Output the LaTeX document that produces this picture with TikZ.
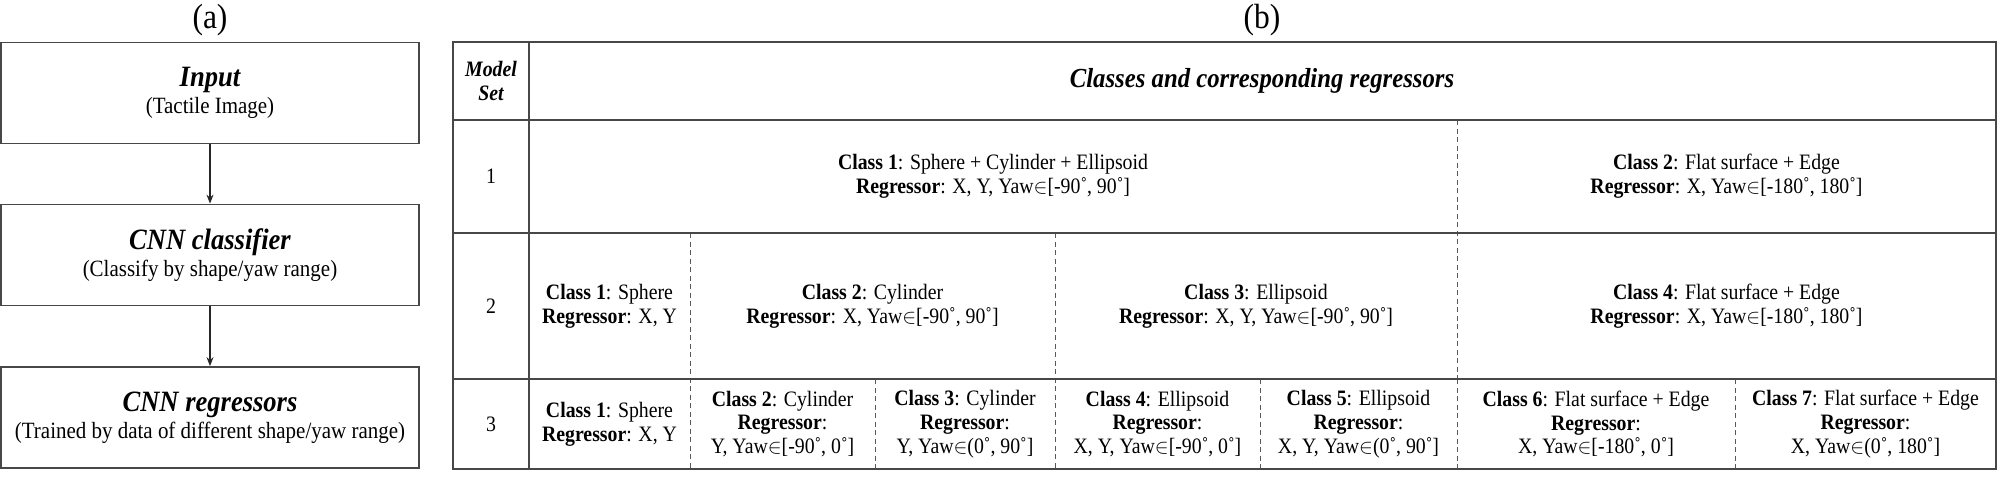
\documentclass[tikz,border=0pt]{standalone}
\usepackage{fontspec}
\setmainfont[FakeStretch=0.9]{Liberation Serif}
\usetikzlibrary{arrows.meta}
\newcommand{\ttlfont}{\fontsize{29.5}{29.5}\selectfont\bfseries\itshape}
\newcommand{\ye}{$\in$}
\begin{document}
\begin{tikzpicture}[x=1pt,y=-1pt,
  frame/.style={draw=black!72, line width=1.8pt},
  dline/.style={draw=black!65, line width=0.9pt, dash pattern=on 5pt off 3.5pt},
  flowbox/.style={draw=black!72, line width=1.8pt, minimum width=418pt, minimum height=101pt, align=center, inner sep=0pt, font=\fontsize{23.3}{27.5}\selectfont},
  cell/.style={align=center, inner sep=0pt, font=\fontsize{22}{23.8}\selectfont},
  hdr/.style={align=center, inner sep=0pt, font=\fontsize{27.5}{30}\selectfont\bfseries\itshape},
  arr/.style={draw=black!85, line width=1.2pt, -{Stealth[length=9pt,width=7pt]}},
  lbl/.style={inner sep=0pt, font=\fontsize{35}{38}\selectfont}]
\useasboundingbox (0,0) rectangle (2000,477);
% ---------- (a)
\node[lbl] (la) at (210,20) {(a)};
\node[flowbox] (in) at (210,93) {{\ttlfont Input}\\(Tactile Image)};
\node[flowbox] (cls) at (210,255) {{\ttlfont CNN classifier}\\(Classify by shape/yaw range)};
\node[flowbox] (reg) at (210,417.5) {{\ttlfont CNN regressors}\\(Trained by data of different shape/yaw range)};
\draw[arr] (in.south) -- (cls.north);
\draw[arr] (cls.south) -- (reg.north);
% ---------- (b)
\node[lbl] (lb) at (1262,20) {(b)};
% dashed separators
\draw[dline] (1457,120) -- (1457,379);
\draw[dline] (690,233) -- (690,469);
\draw[dline] (1055,233) -- (1055,469);
\draw[dline] (1457,379) -- (1457,469);
\draw[dline] (875,379) -- (875,469);
\draw[dline] (1260,379) -- (1260,469);
\draw[dline] (1735,379) -- (1735,469);
% table frame
\draw[frame] (453,42) rectangle (1996,469);
\draw[frame] (529,42) -- (529,469);
\draw[frame] (453,120) -- (1996,120);
\draw[frame] (453,233) -- (1996,233);
\draw[frame] (453,379) -- (1996,379);
% header
\node[cell, font=\fontsize{22}{24}\selectfont\bfseries\itshape] (hms) at (491,81) {Model\\Set};
\node[hdr] (hcl) at (1262,81) {Classes and corresponding regressors};
% row labels
\node[cell] (r1) at (491,176.5) {1};
\node[cell] (r2) at (491,306) {2};
\node[cell] (r3) at (491,424) {3};
% row 1
\node[cell] (a1) at (993,176.5) {\textbf{Class 1}: Sphere + Cylinder + Ellipsoid\\\textbf{Regressor}: X, Y, Yaw\ye[-90˚, 90˚]};
\node[cell] (a2) at (1726.5,176.5) {\textbf{Class 2}: Flat surface + Edge\\\textbf{Regressor}: X, Yaw\ye[-180˚, 180˚]};
% row 2
\node[cell] (b1) at (609.5,306) {\textbf{Class 1}: Sphere\\\textbf{Regressor}: X, Y};
\node[cell] (b2) at (872.5,306) {\textbf{Class 2}: Cylinder\\\textbf{Regressor}: X, Yaw\ye[-90˚, 90˚]};
\node[cell] (b3) at (1256,306) {\textbf{Class 3}: Ellipsoid\\\textbf{Regressor}: X, Y, Yaw\ye[-90˚, 90˚]};
\node[cell] (b4) at (1726.5,306) {\textbf{Class 4}: Flat surface + Edge\\\textbf{Regressor}: X, Yaw\ye[-180˚, 180˚]};
% row 3
\node[cell] (c1) at (609.5,424) {\textbf{Class 1}: Sphere\\\textbf{Regressor}: X, Y};
\node[cell] (c2) at (782.5,424) {\textbf{Class 2}: Cylinder\\\textbf{Regressor}:\\Y, Yaw\ye[-90˚, 0˚]};
\node[cell] (c3) at (965,424) {\textbf{Class 3}: Cylinder\\\textbf{Regressor}:\\Y, Yaw\ye(0˚, 90˚]};
\node[cell] (c4) at (1157.5,424) {\textbf{Class 4}: Ellipsoid\\\textbf{Regressor}:\\X, Y, Yaw\ye[-90˚, 0˚]};
\node[cell] (c5) at (1358.5,424) {\textbf{Class 5}: Ellipsoid\\\textbf{Regressor}:\\X, Y, Yaw\ye(0˚, 90˚]};
\node[cell] (c6) at (1596,424) {\textbf{Class 6}: Flat surface + Edge\\\textbf{Regressor}:\\X, Yaw\ye[-180˚, 0˚]};
\node[cell] (c7) at (1865.5,424) {\textbf{Class 7}: Flat surface + Edge\\\textbf{Regressor}:\\X, Yaw\ye(0˚, 180˚]};
\end{tikzpicture}
\end{document}
